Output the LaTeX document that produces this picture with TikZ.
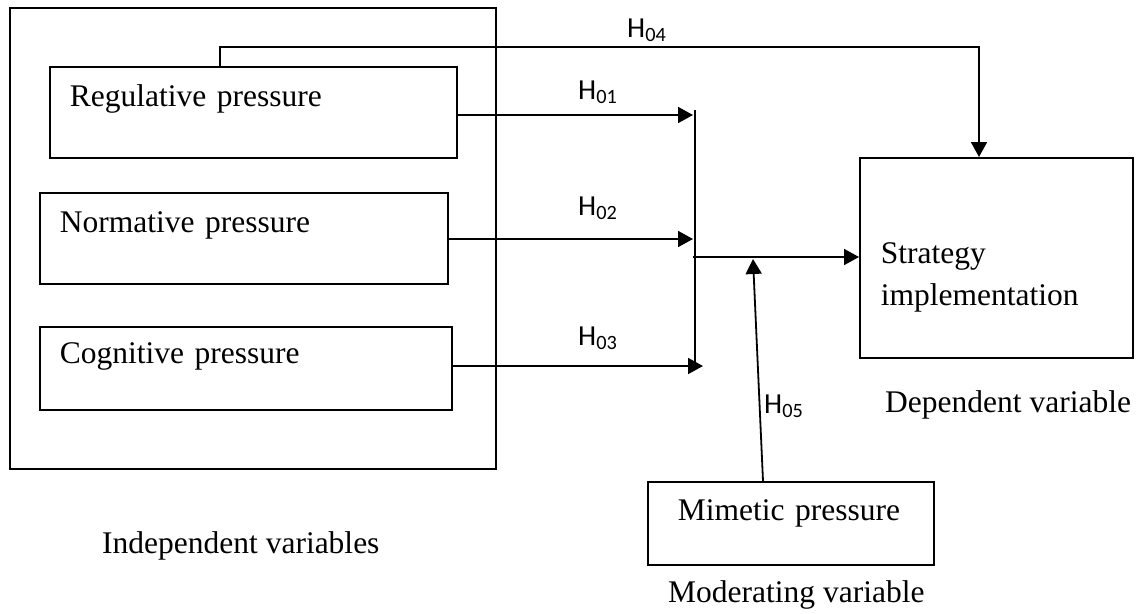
\documentclass[tikz,border=0pt]{standalone}
\usepackage{fontspec}
\setmainfont{Liberation Serif}
\newfontfamily\hypfont{Carlito}
\usetikzlibrary{arrows.meta, positioning}
\tikzstyle{var} = [rectangle, draw=black, line width=1.7pt, align=left, inner xsep=20pt, inner ysep=0pt, anchor=north west, font=\fontsize{31.5}{42}\selectfont]
\tikzstyle{frame} = [rectangle, draw=black, line width=1.7pt, anchor=north west, inner sep=0pt]
\tikzstyle{caption} = [inner sep=0pt, anchor=base west, font=\fontsize{31.5}{36}\selectfont]
\tikzstyle{hyp} = [inner sep=0pt, anchor=base west, font=\hypfont\fontsize{29}{32}\selectfont]
\tikzstyle{arrow} = [line width=1.8pt,->,>={Triangle[length=15pt,width=16pt]}]
\tikzstyle{link} = [line width=1.8pt]

\begin{document}
\begin{tikzpicture}[x=1pt, y=-1pt]
    \useasboundingbox (0,0) rectangle (1142,613);
    % independent variables
    \node (indep) [frame, minimum width=486pt, minimum height=461pt] at (9,7) {};
    \node (reg) [var, text width=367pt, text height=40pt, text depth=51pt] at (49,66) {Regulative pressure};
    \node (norm) [var, text width=368pt, text height=40pt, text depth=51pt] at (39,192) {Normative pressure};
    \node (cog) [var, text width=372pt, text height=37pt, text depth=46pt] at (39,326) {Cognitive pressure};
    \node (indeplab) [caption] at (102,553) {Independent variables};
    % dependent and moderating variables
    \node (strat) [var, inner xsep=21pt, text width=231pt, text height=106pt, text depth=94pt] at (859,157) {Strategy\\implementation};
    \node (deplab) [caption] at (885,412) {Dependent variable};
    \node (mim) [var, inner xsep=30pt, text width=226pt, text height=39pt, text depth=44pt] at (647,481) {Mimetic pressure};
    \node (modlab) [caption] at (668,602) {Moderating variable};

    \coordinate (j1) at (693,115);
    \coordinate (j2) at (693,239);
    \coordinate (j3) at (703,366);
    \coordinate (jtop) at (695,110);
    \coordinate (jbot) at (695,362);
    \coordinate (jout) at (693,257);
    \coordinate (mod) at (753,259);
    \coordinate (modbase) at (763,481);
    \coordinate (h4a) at (220,47);
    \coordinate (h4b) at (979,47);

    \draw [arrow] (reg.east |- j1) -- (j1);
    \draw [arrow] (norm.east |- j2) -- (j2);
    \draw [arrow] (cog.east |- j3) -- (j3);
    \draw [link] (jtop) -- (jbot);
    \draw [arrow] (jout) -- (strat.west |- jout);
    \draw [arrow] (modbase) -- (mod);
    \draw [arrow] (reg.north -| h4a) -- (h4a) -- (h4b) -- (strat.north -| h4b);

    % hypotheses
    \node (h04) [hyp] at (627,37) {H\textsubscript{04}};
    \node (h01) [hyp] at (578,99) {H\textsubscript{01}};
    \node (h02) [hyp] at (578,215) {H\textsubscript{02}};
    \node (h03) [hyp] at (578,345) {H\textsubscript{03}};
    \node (h05) [hyp] at (764,413) {H\textsubscript{05}};
\end{tikzpicture}
\end{document}
